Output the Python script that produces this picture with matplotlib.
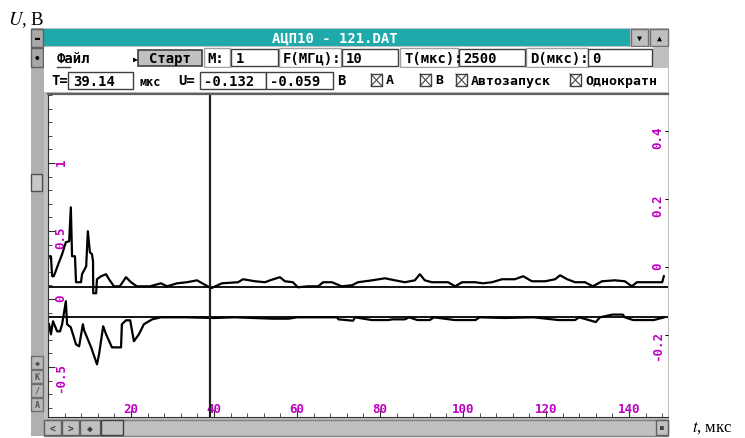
import matplotlib.pyplot as plt
from matplotlib.patches import Rectangle
import numpy as np

plt.rcParams['mathtext.fontset'] = 'stix'

# channel A (upper trace), volts above its own zero line
tA = [0.24, 0.7, 1.0, 1.4, 2.65, 3.4, 4.3, 5.1, 5.5, 5.8, 6.5, 6.75, 7.95, 8.2, 9.2, 9.6,
      10.1, 10.6, 10.85, 10.9, 11.6, 11.8, 12.8, 14.0, 14.7, 15.9, 17.3, 18.8, 20.0, 21.4,
      24.6, 27.2, 28.7, 31.1, 33.5, 35.9, 37.6, 39.3, 41.9, 45.8, 47.0, 49.9, 52.3, 53.5,
      55.9, 57.1, 59.0, 60.2, 62.7, 65.1, 66.3, 68.4, 70.8, 73.3, 74.7, 78.1, 81.2, 83.6,
      86.0, 88.4, 89.6, 90.8, 92.5, 96.4, 98.1, 99.8, 102.9, 104.8, 107.0, 109.4, 112.5,
      114.5, 116.6, 119.8, 122.2, 123.4, 125.1, 127.0, 129.4, 131.3, 133.5, 136.6, 139.0,
      140.7, 141.9, 144.6, 148.0, 148.4]
uA = [0.228, 0.228, 0.081, 0.081, 0.184, 0.243, 0.331, 0.338, 0.588, 0.228, 0.228, 0.037,
      0.037, 0.096, 0.154, 0.412, 0.257, 0.243, 0.191, -0.044, -0.044, 0.059, 0.081, 0.096,
      0.059, 0.007, 0.007, 0.074, 0.037, 0.007, 0.007, 0.029, 0.007, 0.029, 0.037, 0.051,
      0.022, -0.007, 0.029, 0.037, 0.059, 0.044, 0.037, 0.051, 0.074, 0.044, 0.037, 0.0,
      0.007, 0.007, 0.037, 0.037, 0.007, 0.015, 0.037, 0.051, 0.066, 0.051, 0.037, 0.051,
      0.096, 0.051, 0.037, 0.037, 0.007, 0.037, 0.037, 0.029, 0.037, 0.059, 0.059, 0.081,
      0.044, 0.044, 0.059, 0.088, 0.059, 0.037, 0.037, 0.007, 0.044, 0.051, 0.044, 0.007,
      0.037, 0.037, 0.037, 0.081]

# channel B (lower trace)
tB = [0.24, 0.7, 1.2, 2.2, 2.9, 3.4, 4.3, 4.6, 5.5, 6.75, 7.5, 8.4, 8.7, 10.4, 11.8, 12.3,
      13.3, 14.0, 15.4, 17.6, 17.8, 18.8, 19.8, 20.7, 21.9, 23.1, 25.1, 27.2, 33.0, 40.0,
      45.0, 54.0, 58.0, 60.0, 69.6, 70.0, 73.5, 74.0, 78.0, 82.0, 83.0, 86.0, 87.0, 89.0,
      92.0, 93.0, 98.0, 103.0, 104.0, 110.0, 117.0, 123.0, 127.0, 128.0, 132.0, 133.0,
      136.0, 138.5, 139.0, 141.0, 146.0, 148.5]
uB = [-0.051, -0.125, -0.029, -0.103, -0.103, -0.051, 0.118, -0.051, -0.074, -0.199, -0.213,
      -0.051, -0.096, -0.221, -0.346, -0.272, -0.066, -0.125, -0.221, -0.221, -0.051, -0.022,
      -0.022, -0.176, -0.125, -0.051, -0.015, 0.0, 0.0, -0.005, 0.0, -0.01, -0.01, 0.0, 0.0,
      -0.015, -0.025, 0.0, -0.02, -0.02, -0.015, -0.015, 0.0, -0.02, -0.02, 0.0, -0.02, -0.02,
      0.0, -0.005, 0.0, -0.02, -0.02, 0.0, -0.035, 0.0, 0.02, 0.02, 0.0, -0.02, -0.02, 0.0]

zeroA = 0.086
zeroB = -0.135
cursor_t = 39.14

left_ticks = [-0.5, 0, 0.5, 1]
left_labels = ['-0.5', '0', '0.5', '1']
right_ticks = [-0.2, 0, 0.2, 0.4]
right_labels = ['-0.2', '0', '0.2', '0.4']
x_ticks = [20, 40, 60, 80, 100, 120, 140]

MAG = '#c000c0'
GRAY = '#c0c0c0'
MONO = 'DejaVu Sans Mono'

fig = plt.figure(figsize=(7.45, 4.39), dpi=100)
bg = fig.add_axes([0, 0, 1, 1])
bg.set_xlim(0, 745)
bg.set_ylim(439, 0)
bg.axis('off')


def box(x0, y0, x1, y1, fc='white', ec='#505050', lw=1.0):
    bg.add_patch(Rectangle((x0, y0), x1 - x0, y1 - y0, facecolor=fc, edgecolor=ec, linewidth=lw))


def label(x, y, s, size=10, color='black', ha='left'):
    bg.text(x, y, s, family=MONO, fontweight='bold', fontsize=size, color=color,
            ha=ha, va='center')


# window frame
box(31, 29, 669, 437, fc=GRAY, ec='none')
box(31, 29, 44, 437, fc='#b0b0b0', ec='none')
box(44, 30, 630, 47, fc='#1eaaaa', ec='none')
label(335, 38.5, 'АЦП10 - 121.DAT', color='white', ha='center')
box(631, 30, 648, 47, fc=GRAY, ec='#707070')
label(639.5, 38.5, '▼', size=6, ha='center')
box(650, 30, 668, 47, fc=GRAY, ec='#707070')
label(659, 38.5, '▲', size=6, ha='center')
box(31, 30, 43, 48, fc='#a8a8a8', ec='#606060')
label(37, 39, '▬', size=6, ha='center')
box(31, 49, 43, 68, fc='#a8a8a8', ec='#606060')
label(37, 58.5, '•', size=8, ha='center')

# first row
box(44, 48, 668, 69, fc='white', ec='none')
box(653, 48, 668, 69, fc=GRAY, ec='none')
label(57, 59, 'Файл')
bg.plot([57, 70], [68, 68], color='#404040', lw=1)
label(133, 59, '▶', size=6)
box(138, 51, 202, 67, fc=GRAY, ec='#404040', lw=1.2)
label(170, 59, 'Старт', ha='center')
for x0, x1 in [(204, 230), (279, 341), (400, 458), (526, 588)]:
    box(x0, 49, x1, 68, fc='white', ec='#a0a0a0')
for x0, x1 in [(231, 278), (342, 398), (459, 525), (588, 652)]:
    box(x0, 50, x1, 67, fc='white', ec='#404040')
label(207, 59, 'M:')
label(236, 59, '1')
label(283, 59, 'F(МГц):')
label(346, 59, '10')
label(404, 59, 'T(мкс):')
label(463, 59, '2500')
label(530, 59, 'D(мкс):')
label(592, 59, '0')

# second row
box(44, 69, 668, 93, fc='white', ec='none')
label(51, 81, 'T=')
box(68, 73, 133, 90, fc='white', ec='#404040')
label(73, 81.5, '39.14')
label(140, 82, 'мкс', size=8.5)
label(178, 81, 'U=')
box(200, 73, 266, 90, fc='white', ec='#404040')
box(266, 73, 333, 90, fc='white', ec='#404040')
label(204, 81.5, '-0.132')
label(270, 81.5, '-0.059')
label(337, 81, 'В')
for cx, txt in [(371, 'A'), (420, 'B'), (456, 'Автозапуск'), (570, 'Однократн')]:
    box(cx, 75, cx + 11, 87, fc='white', ec='#404040')
    bg.plot([cx, cx + 11], [75, 87], color='#404040', lw=0.8)
    bg.plot([cx, cx + 11], [87, 75], color='#404040', lw=0.8)
    label(cx + 15, 81, txt, size=9.5)

# left strip controls
box(31, 175, 42, 192, fc='#c8c8c8', ec='#505050')
for y0, s in [(357, '◆'), (371, 'K'), (385, '/'), (399, 'A')]:
    box(31, y0, 43, y0 + 13, fc='#b8b8b8', ec='#707070')
    label(37, y0 + 6.5, s, size=6, color='#505050', ha='center')

# bottom scrollbar
box(44, 421, 668, 437, fc=GRAY, ec='#808080')
for x0, x1, s in [(44, 61, '<'), (62, 79, '>'), (80, 100, '◆'), (656, 668, '▪')]:
    box(x0, 421, x1, 436, fc=GRAY, ec='#606060')
    label((x0 + x1) / 2, 428.5, s, size=7, color='#404040', ha='center')
box(101, 421, 123, 436, fc=GRAY, ec='#404040')

# axis labels outside the window
bg.text(8, 25, '$U$, В', family='Liberation Serif', fontsize=13.5, va='baseline')
bg.text(692, 428, '$t$, мкс', family='Liberation Serif', fontsize=12, va='center')

# plot area
ax = fig.add_axes([48 / 745, (439 - 418) / 439, (668 - 48) / 745, (418 - 95) / 439])
ax.set_facecolor('white')
ax.set_xlim(0, 149.4)
ax.set_ylim(-0.868, 1.507)
ax.spines['right'].set_visible(False)
ax.spines['top'].set_color('#606060')
ax.spines['top'].set_linewidth(1.6)
ax.spines['left'].set_color('#303030')
ax.spines['bottom'].set_color('#303030')

ax.axhline(zeroA, color='black', lw=1.3)
ax.axhline(zeroB, color='black', lw=1.3)
ax.plot(tA, np.array(uA) + zeroA, color='black', lw=1.6)
ax.plot(tB, np.array(uB) + zeroB, color='black', lw=1.6)
ax.axvline(cursor_t, color='#202020', lw=1.6)

ax.set_yticks(left_ticks)
ax.set_yticklabels(left_labels)
ax.set_yticks(np.arange(-0.8, 1.51, 0.1), minor=True)
ax.tick_params(axis='y', which='both', direction='in', color='#303030')
ax.tick_params(axis='y', which='major', length=5, pad=-14, labelrotation=90,
               labelcolor=MAG, labelsize=9)
ax.tick_params(axis='y', which='minor', length=3)

ax.set_xticks(x_ticks)
ax.set_xticks(np.arange(0, 149, 4), minor=True)
ax.tick_params(axis='x', which='both', direction='in', color='#303030')
ax.tick_params(axis='x', which='major', length=5, pad=-11, labelcolor=MAG, labelsize=9)
ax.tick_params(axis='x', which='minor', length=3)
for t in ax.get_xticklabels() + ax.get_yticklabels():
    t.set_family(MONO)
    t.set_fontweight('bold')

axr = ax.twinx()
axr.set_ylim((-0.868 - 0.235) / 2.5, (1.507 - 0.235) / 2.5)
for s in axr.spines.values():
    s.set_visible(False)
axr.set_yticks(right_ticks)
axr.set_yticklabels(right_labels)
axr.tick_params(axis='y', direction='in', length=2, pad=-12, labelrotation=90,
                labelcolor=MAG, labelsize=9)
for t in axr.get_yticklabels():
    t.set_family(MONO)
    t.set_fontweight('bold')

plt.savefig('out.png', dpi=100)
